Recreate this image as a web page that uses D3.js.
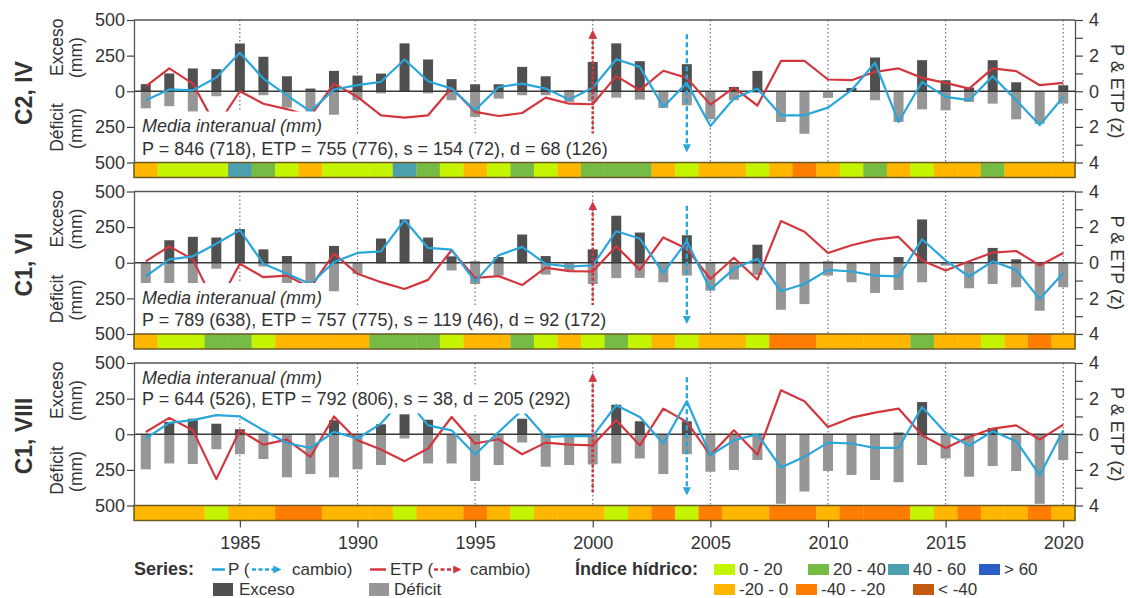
<!DOCTYPE html>
<html><head><meta charset="utf-8">
<script src="https://cdn.jsdelivr.net/npm/d3@7"></script>
<style>
body{margin:0;background:#fff}
svg{display:block;font-family:"Liberation Sans",Arial,sans-serif}
</style>
</head><body>
<svg id="c" width="1128" height="598"></svg>
<script>
// ---------------- DATA ----------------
const years = [1981,1982,1983,1984,1985,1986,1987,1988,1989,1990,
               1991,1992,1993,1994,1995,1996,1997,1998,1999,2000,
               2001,2002,2003,2004,2005,2006,2007,2008,2009,2010,
               2011,2012,2013,2014,2015,2016,2017,2018,2019,2020];
const tickYears = [1985,1990,1995,2000,2005,2010,2015,2020];
const panelNames = ["C2, IV", "C1, VI", "C1, VIII"];
const mmTicks = [500, 250, 0, -250, -500];
const zTicks = [4, 3, 2, 1, 0, -1, -2, -3, -4];

// Panel C2, IV
const excesoIV  = [50,125,160,155,335,242,105,19,143,110, 124,336,223,85,49,49,171,105,7,206, 336,211,0,190,0,30,143,0,0,0, 23,237,0,218,77,26,218,63,0,42];
const deficitIV = [-120,-105,-145,-35,-5,-28,-115,-145,-165,-63, -15,-5,-15,-63,-180,-52,-28,-28,-75,-70, -45,-59,-117,-99,-197,-63,-10,-216,-298,-47, -5,-63,-216,-127,-134,-75,-87,-197,-228,-87];
const pIV   = [-0.5,0.1,0.05,0.77,2.16,0.71,-0.23,-1.13,0.1,0.34, 0.53,1.78,0.56,0.15,-1.07,0.24,0.43,0.15,-0.47,0.2, 1.8,1.37,-0.88,0.47,-1.95,-0.41,0.15,-1.35,-1.35,-0.92, 0.06,1.6,-1.73,0.53,-0.32,-0.5,0.85,-0.5,-1.9,-0.32];
const etpIV = [0.28,1.28,0.43,-2.0,0.0,-0.7,-1.0,-1.4,0.43,-0.32, -1.35,-1.48,-1.35,0.2,-1.16,-1.39,-1.22,-0.36,-0.7,-0.73, 0.85,0.06,1.15,0.75,-0.75,0.2,-0.8,1.7,1.7,0.66, 0.62,1.09,1.28,0.75,0.47,0.15,1.28,1.13,0.34,0.47];
const indexIV = ["O","L","L","L","T","G","L","O","L","L", "L","T","G","L","O","L","G","L","O","G", "G","G","O","L","O","O","L","O","D","O", "L","G","O","L","O","O","G","O","O","O"];
const statsIV = "P = 846 (718), ETP = 755 (776), s = 154 (72), d = 68 (126)";

// Panel C1, VI
const excesoVI  = [0,158,182,177,236,94,47,5,118,5, 170,304,177,45,9,40,198,47,0,94, 330,212,0,193,0,0,127,0,0,9, 0,0,40,304,0,0,104,24,0,0];
const deficitVI = [-149,-196,-149,-42,-5,-26,-149,-149,-200,-78, -5,-5,-5,-54,-149,-90,-5,-83,-54,-149, -108,-106,-137,-90,-196,-118,-85,-330,-290,-90, -137,-212,-191,-137,-20,-179,-149,-172,-337,-172];
const pVI   = [-0.77,0.19,0.36,1.07,1.83,-0.06,-0.62,-1.19,0.04,0.55, 0.64,2.4,0.83,0.74,-1.06,0.42,0.89,-0.06,-0.21,-0.15, 1.77,1.36,-0.58,1.21,-1.51,-0.34,0.23,-1.6,-1.19,-0.4, -0.49,-0.72,-0.77,1.32,0.13,-0.77,0.08,-0.4,-2.04,-0.58];
const etpVI = [0.08,0.92,0.19,-2.5,-0.06,-0.81,-0.72,-1.4,0.51,-0.62, -1.09,-1.47,-0.96,0.7,-0.85,-0.75,-1.25,-0.28,-0.47,-0.49, 0.92,-0.4,1.42,0.79,-0.91,0.28,-0.94,2.34,1.74,0.55, 0.98,1.3,1.45,0.13,-0.43,0.08,0.57,0.66,-0.15,0.55];
const indexVI = ["O","L","L","G","G","L","O","O","O","O", "G","G","G","L","O","O","G","L","O","L", "G","L","O","L","O","O","L","D","D","O", "O","O","O","G","O","O","L","O","D","O"];
const statsVI = "P = 789 (638), ETP = 757 (775), s = 119 (46), d = 92 (172)";

// Panel C1, VIII
const excesoVIII  = [0,86,109,74,35,0,0,0,98,0, 70,140,102,0,0,0,109,0,0,0, 207,91,0,91,0,0,0,0,0,0, 0,0,12,226,0,0,44,0,0,0];
const deficitVIII = [-246,-205,-209,-105,-140,-174,-302,-279,-302,-246, -216,-30,-205,-205,-328,-216,-58,-228,-216,-212, -205,-170,-279,-140,-263,-251,-181,-488,-402,-258, -286,-321,-337,-216,-170,-298,-223,-258,-488,-181];
const pVIII   = [-0.24,0.64,0.79,1.07,1.0,0.22,-0.49,-0.77,0.13,-0.24, 0.6,2.1,0.5,0.22,-1.14,0.13,1.35,-0.15,-0.11,-0.11, 1.63,0.97,-0.52,1.85,-1.18,-0.34,0.0,-1.87,-1.27,-0.47, -0.52,-0.77,-0.77,1.53,0.09,-0.65,0.17,-0.39,-2.3,0.22];
const etpVIII = [0.13,0.92,0.22,-2.52,0.22,-0.58,-0.3,-1.27,1.0,-0.34, -0.86,-1.51,-0.8,0.97,-0.52,-0.28,-1.12,-0.47,-0.58,-0.62, 0.79,-0.62,1.44,0.69,-1.18,0.22,-1.14,2.47,1.85,0.41, 0.93,1.21,1.44,-0.06,-0.77,-0.15,0.32,0.5,-0.3,0.54];
const indexVIII = ["O","O","O","L","O","O","D","D","O","O", "O","L","O","O","D","O","L","O","O","O", "L","O","D","L","D","O","O","D","D","O", "D","D","D","L","O","D","O","O","D","O"];
const statsVIII = "P = 644 (526), ETP = 792 (806), s = 38, d = 205 (292)";

// Change points (year of change for each series)
const changeYearP = 2004;
const changeYearETP = 2000;

// Water index classes
const classCodes  = ["L", "G", "T", "B", "O", "D", "R"];
const classLabels = ["0 - 20", "20 - 40", "40 - 60", "> 60", "-20 - 0", "-40 - -20", "< -40"];
const classColors = ["#c4f400", "#76bb44", "#4c9fad", "#2c5cc5", "#ffb600", "#ff7d00", "#c45a10"];

// ---------------- LAYOUT ----------------
const panels = [
  {name: panelNames[0], exceso: excesoIV, deficit: deficitIV, p: pIV, etp: etpIV, index: indexIV, stats: statsIV, boxPos: "bottom"},
  {name: panelNames[1], exceso: excesoVI, deficit: deficitVI, p: pVI, etp: etpVI, index: indexVI, stats: statsVI, boxPos: "bottom"},
  {name: panelNames[2], exceso: excesoVIII, deficit: deficitVIII, p: pVIII, etp: etpVIII, index: indexVIII, stats: statsVIII, boxPos: "top"}
];
const tops = [20, 191.5, 363];
const plotH = 142.5, bandH = 15;
const L = 134, R = 1075;
const FONT = '"Liberation Sans", Arial, sans-serif';
const TXT = "#333";
const colP = "#29a6da", colE = "#d2363e";
const colorOf = c => classColors[classCodes.indexOf(c)];

const svg = d3.select("#c");
const x = d3.scaleLinear().domain([1980.5, 2020.5]).range([L, R]);

const defs = svg.append("defs");
function marker(id, color) {
  defs.append("marker").attr("id", id).attr("viewBox", "0 0 10 10")
    .attr("refX", 7).attr("refY", 5).attr("markerWidth", 3.4).attr("markerHeight", 3.4)
    .attr("orient", "auto").attr("markerUnits", "strokeWidth")
    .append("path").attr("d", "M0,0L10,5L0,10z").attr("fill", color);
}
marker("mP", colP); marker("mE", colE);

panels.forEach((p, i) => {
  const top = tops[i], bot = top + plotH;
  const yMM = d3.scaleLinear().domain([-500, 500]).range([bot, top]);
  const yZ = d3.scaleLinear().domain([-4, 4]).range([bot, top]);
  const g = svg.append("g");

  // dotted grid
  g.selectAll(".grid").data(tickYears).join("line")
    .attr("x1", d => x(d)).attr("x2", d => x(d)).attr("y1", top).attr("y2", bot)
    .attr("stroke", "#666").attr("stroke-width", 1.1).attr("stroke-dasharray", "1.5,2.5");

  const bw = 10;
  g.selectAll(".def").data(years).join("rect")
    .attr("x", (d) => x(d) - bw / 2).attr("width", bw)
    .attr("y", yMM(0)).attr("height", (d, j) => yMM(p.deficit[j]) - yMM(0))
    .attr("fill", "#969696");
  g.selectAll(".exc").data(years).join("rect")
    .attr("x", (d) => x(d) - bw / 2).attr("width", bw)
    .attr("y", (d, j) => yMM(p.exceso[j])).attr("height", (d, j) => yMM(0) - yMM(p.exceso[j]))
    .attr("fill", "#505050");

  g.append("line").attr("x1", L).attr("x2", R).attr("y1", yMM(0)).attr("y2", yMM(0))
    .attr("stroke", "#3a3a3a").attr("stroke-width", 1.3);

  const lineE = d3.line().x((d) => x(d)).y((d, j) => yZ(p.etp[j]));
  const lineP = d3.line().x((d) => x(d)).y((d, j) => yZ(p.p[j]));
  g.append("path").datum(years).attr("d", lineE).attr("fill", "none")
    .attr("stroke", colE).attr("stroke-width", 2.2).attr("stroke-linejoin", "round");
  g.append("path").datum(years).attr("d", lineP).attr("fill", "none")
    .attr("stroke", colP).attr("stroke-width", 2.2).attr("stroke-linejoin", "round");

  g.append("line").attr("x1", x(changeYearETP)).attr("x2", x(changeYearETP))
    .attr("y1", yZ(-3.25)).attr("y2", yZ(3.3))
    .attr("stroke", colE).attr("stroke-width", 2.6).attr("stroke-dasharray", "3,2")
    .attr("marker-end", "url(#mE)");
  g.append("line").attr("x1", x(changeYearP)).attr("x2", x(changeYearP))
    .attr("y1", yZ(3.2)).attr("y2", yZ(-3.3))
    .attr("stroke", colP).attr("stroke-width", 2.4).attr("stroke-dasharray", "5,3")
    .attr("marker-end", "url(#mP)");

  // stats text with white box
  const lines = ["Media interanual (mm)", p.stats];
  const base = p.boxPos === "bottom" ? [top + 112, top + 134.5] : [top + 20.5, top + 42];
  const boxY = p.boxPos === "bottom" ? [[top + 91.5, top + 113.5], [top + 113.5, bot]] : [[top + 1, top + 22], [top + 22, top + 50.5]];
  const boxG = g.append("g"), txtG = g.append("g");
  lines.forEach((t, k) => {
    const tx = txtG.append("text").attr("x", 142).attr("y", base[k]).text(t)
      .attr("font-size", 18).attr("fill", TXT).attr("font-style", k === 0 ? "italic" : "normal");
    const w = tx.node().getComputedTextLength();
    boxG.append("rect").attr("x", 138).attr("y", boxY[k][0]).attr("width", w + 8)
      .attr("height", boxY[k][1] - boxY[k][0]).attr("fill", "#fff");
  });

  g.append("line").attr("x1", L).attr("x2", R).attr("y1", top).attr("y2", top)
    .attr("stroke", "#555").attr("stroke-width", 1.4);

  // index band
  g.selectAll(".band").data(years).join("rect")
    .attr("x", d => x(d - 0.5)).attr("width", d => x(d + 0.5) - x(d - 0.5) + 0.3)
    .attr("y", bot).attr("height", bandH)
    .attr("fill", (d, j) => colorOf(p.index[j]));
  g.append("rect").attr("x", L).attr("y", bot).attr("width", R - L).attr("height", bandH)
    .attr("fill", "none").attr("stroke", "#6b5a26").attr("stroke-width", 1.5);

  const ax = g.append("g").attr("transform", `translate(${L},0)`)
    .call(d3.axisLeft(yMM).tickValues(mmTicks).tickFormat(d => Math.abs(d)).tickSize(7).tickPadding(2).tickSizeOuter(0));
  const ay = g.append("g").attr("transform", `translate(${R},0)`)
    .call(d3.axisRight(yZ).tickValues(zTicks).tickFormat(d => d % 2 === 0 ? Math.abs(d) : "").tickSize(8).tickPadding(6).tickSizeOuter(0));
  [ax, ay].forEach(a => {
    a.attr("font-family", FONT).attr("font-size", 18);
    a.selectAll("text").attr("fill", TXT);
    a.selectAll("line").attr("stroke", "#444").attr("stroke-width", 1.2);
    a.select(".domain").attr("stroke", "#555").attr("stroke-width", 1.3);
  });

  // left titles
  const cy = top + 73;
  g.append("text").attr("transform", `translate(32,${cy}) rotate(-90)`).attr("text-anchor", "middle")
    .attr("font-size", 23).attr("font-weight", "bold").attr("fill", TXT).text(p.name);
  g.append("text").attr("transform", `translate(63,${top + 56}) rotate(-90)`).attr("text-anchor", "start")
    .attr("font-size", 17.5).attr("fill", TXT).text("Exceso");
  g.append("text").attr("transform", `translate(82,${top + 58}) rotate(-90)`).attr("text-anchor", "start")
    .attr("font-size", 17.5).attr("fill", TXT).text("(mm)");
  g.append("text").attr("transform", `translate(63,${top + 107.5}) rotate(-90)`).attr("text-anchor", "middle")
    .attr("font-size", 17.5).attr("fill", TXT).text("Déficit");
  g.append("text").attr("transform", `translate(82,${top + 108.5}) rotate(-90)`).attr("text-anchor", "middle")
    .attr("font-size", 17.5).attr("fill", TXT).text("(mm)");
  g.append("text").attr("transform", `translate(1111,${yZ(0)}) rotate(90)`).attr("text-anchor", "middle")
    .attr("font-size", 18).attr("fill", TXT).text("P & ETP (z)");
});

// bottom x axis
const xa = svg.append("g").attr("transform", `translate(0,${tops[2] + plotH + bandH})`)
  .call(d3.axisBottom(x).tickValues(tickYears).tickFormat(d3.format("d")).tickSize(7).tickPadding(9).tickSizeOuter(0));
xa.select(".domain").remove();
xa.attr("font-family", FONT).attr("font-size", 18);
xa.selectAll("text").attr("fill", TXT);
xa.selectAll("line").attr("stroke", "#444").attr("stroke-width", 1.2);

// ---------------- LEGEND ----------------
const lg = svg.append("g").attr("font-size", 17).attr("fill", TXT);
const r1 = 575, r2 = 594.5, ly = 569.5;
lg.append("text").attr("x", 134).attr("y", r1).attr("font-weight", "bold").attr("font-size", 18).text("Series:");
lg.append("line").attr("x1", 212).attr("x2", 225).attr("y1", ly).attr("y2", ly).attr("stroke", colP).attr("stroke-width", 2.5);
lg.append("text").attr("x", 228).attr("y", r1).text("P (");
lg.append("line").attr("x1", 252).attr("x2", 279).attr("y1", ly).attr("y2", ly).attr("stroke", colP)
  .attr("stroke-width", 2.4).attr("stroke-dasharray", "4,2.5").attr("marker-end", "url(#mP)");
lg.append("text").attr("x", 292).attr("y", r1).text("cambio)");
lg.append("line").attr("x1", 370).attr("x2", 386).attr("y1", ly).attr("y2", ly).attr("stroke", colE).attr("stroke-width", 2.5);
lg.append("text").attr("x", 390).attr("y", r1).text("ETP (");
lg.append("line").attr("x1", 434).attr("x2", 459).attr("y1", ly).attr("y2", ly).attr("stroke", colE)
  .attr("stroke-width", 2.4).attr("stroke-dasharray", "4,2.5").attr("marker-end", "url(#mE)");
lg.append("text").attr("x", 470).attr("y", r1).text("cambio)");
lg.append("rect").attr("x", 213).attr("y", 583).attr("width", 20).attr("height", 13).attr("fill", "#505050");
lg.append("text").attr("x", 239).attr("y", r2).text("Exceso");
lg.append("rect").attr("x", 369).attr("y", 583).attr("width", 20).attr("height", 13).attr("fill", "#969696");
lg.append("text").attr("x", 394).attr("y", r2).text("Déficit");

lg.append("text").attr("x", 575).attr("y", r1).attr("font-weight", "bold").attr("font-size", 18).text("Índice hídrico:");
const legPos = [[714, 0], [808, 0], [888, 0], [979, 0], [714, 1], [796, 1], [913, 1]];
classCodes.forEach((c, k) => {
  const [lx, row] = legPos[k];
  const yy = row === 0 ? 564 : 584;
  lg.append("rect").attr("x", lx).attr("y", yy).attr("width", 21).attr("height", 11).attr("fill", classColors[k]);
  lg.append("text").attr("x", lx + 25).attr("y", row === 0 ? r1 : r2).text(classLabels[k]);
});
</script>
</body></html>
